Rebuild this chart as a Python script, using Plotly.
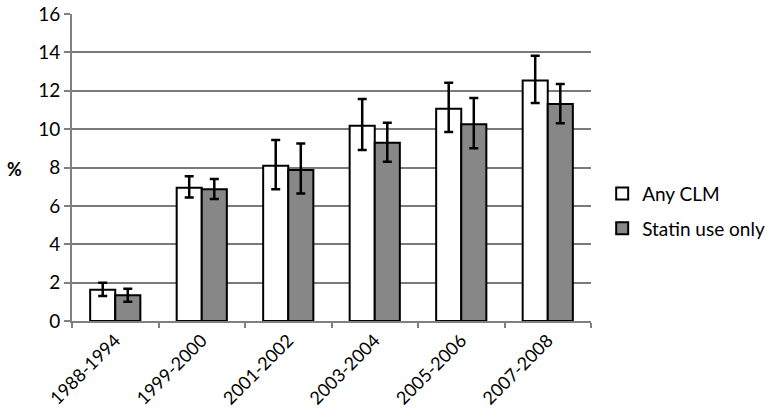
import plotly.graph_objects as go

categories = ["1988-1994", "1999-2000", "2001-2002", "2003-2004", "2005-2006", "2007-2008"]
any_clm = [1.63, 6.95, 8.09, 10.18, 11.06, 12.54]
any_clm_hi = [2.0, 7.54, 9.43, 11.57, 12.42, 13.82]
any_clm_lo = [1.3, 6.43, 6.86, 8.91, 9.85, 11.36]
statin = [1.34, 6.86, 7.87, 9.29, 10.25, 11.31]
statin_hi = [1.68, 7.40, 9.25, 10.33, 11.62, 12.35]
statin_lo = [1.0, 6.36, 6.65, 8.3, 9.0, 10.3]

font = "Lato, Open Sans, sans-serif"

def err(vals, hi, lo):
    return dict(type="data", symmetric=False,
                array=[h - v for h, v in zip(hi, vals)],
                arrayminus=[v - l for v, l in zip(vals, lo)],
                color="black", thickness=2.5, width=4.5)

fig = go.Figure()
fig.add_trace(go.Bar(x=categories, y=any_clm, name="Any CLM", legendgroup="a",
                     marker=dict(color="white", line=dict(color="black", width=2)),
                     error_y=err(any_clm, any_clm_hi, any_clm_lo)))
fig.add_trace(go.Bar(x=categories, y=statin, name="Statin use only", legendgroup="b",
                     marker=dict(color="#878787", line=dict(color="black", width=2)),
                     error_y=err(statin, statin_hi, statin_lo)))

fig.update_layout(
    width=774, height=420,
    margin=dict(l=72, r=183, t=14, b=99),
    paper_bgcolor="white", plot_bgcolor="white",
    barmode="group", bargap=0.42, bargroupgap=0,
    font=dict(family=font, size=18, color="black"),
    legend=dict(xref="container", yref="container", x=0.778, y=0.497,
                xanchor="left", yanchor="middle",
                font=dict(size=19), itemwidth=30, tracegroupgap=7),
    xaxis=dict(showline=True, linecolor="#808080", linewidth=2,
               ticks="outside", tickson="boundaries", ticklen=5,
               tickcolor="#808080", tickwidth=2, tickangle=-45,
               tickfont=dict(size=18), automargin=False),
    yaxis=dict(range=[0, 16], dtick=2, showgrid=True, gridcolor="#7a7a7a",
               gridwidth=1.5, showline=True, linecolor="#808080", linewidth=2,
               ticks="outside", ticklen=6, tickcolor="#808080", tickwidth=2,
               zeroline=False, tickfont=dict(size=19), automargin=False),
    annotations=[dict(text="<b>%</b>", x=-0.11, y=0.495, xref="paper", yref="paper",
                      xanchor="center", yanchor="middle",
                      showarrow=False, font=dict(size=18))]
)

fig.write_html("out.html", config={"displayModeBar": False},
               post_script="document.body.style.margin='0';document.body.style.padding='0';")
